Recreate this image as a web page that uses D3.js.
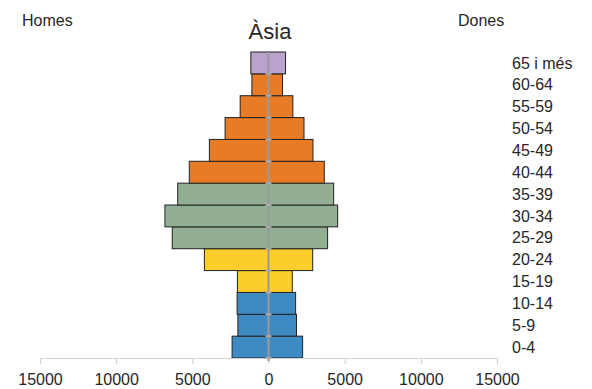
<!DOCTYPE html>
<html>
<head>
<meta charset="utf-8">
<script src="https://cdn.jsdelivr.net/npm/d3@7"></script>
<style>
  body { margin: 0; background: #fff; }
  text { font-family: "Liberation Sans", Arial, sans-serif; fill: #262626; }
</style>
</head>
<body>
<div id="chart"></div>
<script>
// Age groups, bottom to top
var groups = ["0-4", "5-9", "10-14", "15-19", "20-24", "25-29", "30-34", "35-39",
  "40-44", "45-49", "50-54", "55-59", "60-64", "65 i més"];
var homes = [2390, 2010, 2060, 2040, 4210, 6320, 6800, 5960, 5200, 3880, 2850, 1860, 1090, 1160];
var dones = [2240, 1840, 1780, 1560, 2900, 3880, 4540, 4280, 3660, 2920, 2330, 1600, 920, 1120];
var groupColors = ["#3d8bc2", "#3d8bc2", "#3d8bc2", "#fdcd2b", "#fdcd2b", "#93af93", "#93af93", "#93af93",
  "#e87b25", "#e87b25", "#e87b25", "#e87b25", "#e87b25", "#b9a3cc"];
var ticks = [-15000, -10000, -5000, 0, 5000, 10000, 15000];

var width = 592, height = 389;

var svg = d3.select("#chart")
  .append("svg")
  .attr("width", width)
  .attr("height", height);

var x = d3.scaleLinear().domain([-15000, 15000]).range([40, 497]);
var y = d3.scaleBand().domain(groups).range([358, 52]).padding(0);

var rows = groups.map(function(g, i) {
  return {group: g, m: homes[i], f: dones[i], color: groupColors[i]};
});

// Men (left)
svg.selectAll("rect.m")
  .data(rows)
  .enter().append("rect")
  .attr("class", "m")
  .attr("x", d => x(-d.m))
  .attr("y", d => y(d.group))
  .attr("width", d => x(0) - x(-d.m))
  .attr("height", y.bandwidth())
  .attr("fill", d => d.color)
  .attr("stroke", "#222")
  .attr("stroke-width", 1);

// Women (right)
svg.selectAll("rect.f")
  .data(rows)
  .enter().append("rect")
  .attr("class", "f")
  .attr("x", x(0))
  .attr("y", d => y(d.group))
  .attr("width", d => x(d.f) - x(0))
  .attr("height", y.bandwidth())
  .attr("fill", d => d.color)
  .attr("stroke", "#222")
  .attr("stroke-width", 1);

// Bottom axis
var axis = svg.append("g")
  .attr("transform", "translate(0," + 358 + ")")
  .call(d3.axisBottom(x).tickValues(ticks).tickFormat(d => Math.abs(d)).tickSize(6).tickPadding(10));
axis.select(".domain").attr("stroke", "#d0d0d0");
axis.selectAll(".tick line").attr("stroke", "#d0d0d0");
axis.selectAll(".tick text")
  .style("font-size", "16px")
  .style("font-family", "Liberation Sans, Arial, sans-serif")
  .attr("fill", "#262626");

// Zero line with small band ticks
svg.append("line")
  .attr("x1", x(0)).attr("x2", x(0))
  .attr("y1", 52).attr("y2", 361)
  .attr("stroke", "#999")
  .attr("stroke-width", 2);
svg.selectAll("line.bt")
  .data(groups)
  .enter().append("line")
  .attr("class", "bt")
  .attr("x1", x(0) - 3).attr("x2", x(0) + 3)
  .attr("y1", d => y(d) + y.bandwidth())
  .attr("y2", d => y(d) + y.bandwidth())
  .attr("stroke", "#aaa")
  .attr("stroke-width", 2);

// Category labels on the right
svg.selectAll("text.cat")
  .data(groups)
  .enter().append("text")
  .attr("class", "cat")
  .attr("x", 512)
  .attr("y", d => y(d) + y.bandwidth() / 2)
  .attr("dy", "0.35em")
  .style("font-size", "16px")
  .text(d => d);

// Titles
svg.append("text")
  .attr("x", 270).attr("y", 39)
  .attr("text-anchor", "middle")
  .style("font-size", "22px")
  .text("Àsia");
svg.append("text")
  .attr("x", 22).attr("y", 26)
  .style("font-size", "16px")
  .text("Homes");
svg.append("text")
  .attr("x", 458).attr("y", 26)
  .style("font-size", "16px")
  .text("Dones");
</script>
</body>
</html>
